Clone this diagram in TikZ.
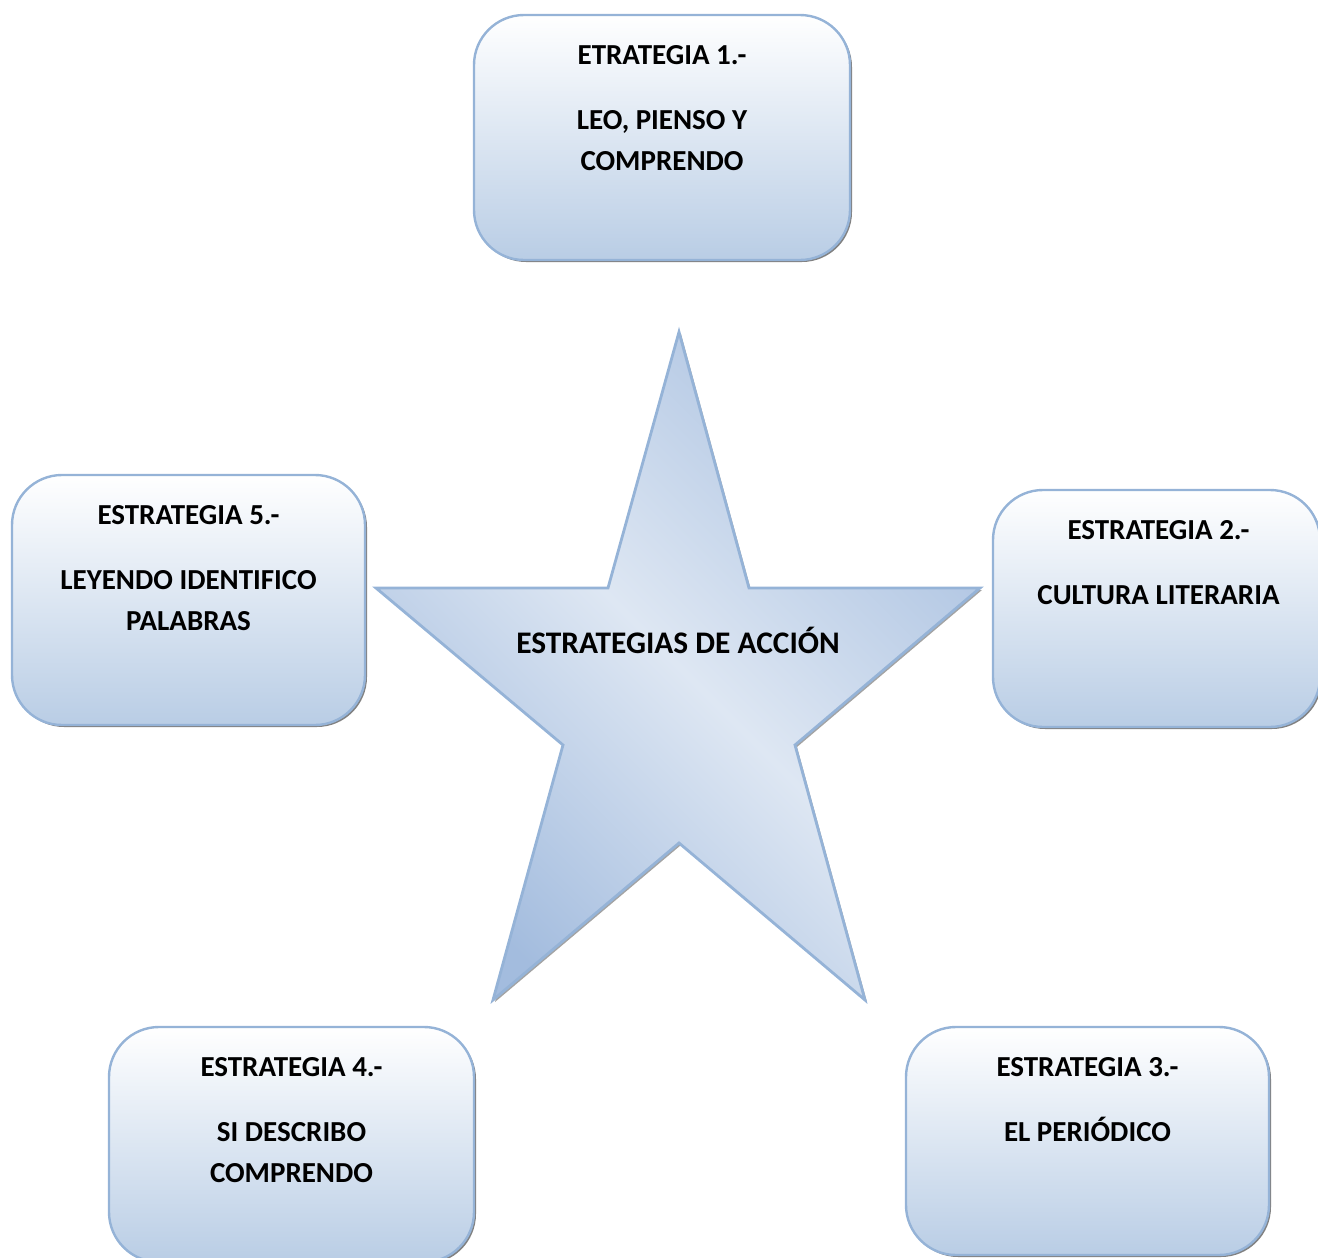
\documentclass[tikz,border=0pt]{standalone}
\usepackage{fontspec}
\setmainfont{Carlito}
\usetikzlibrary{positioning,shadows}
\definecolor{boxline}{RGB}{149,179,215}
\definecolor{boxbottom}{RGB}{185,205,229}
\definecolor{starlight}{RGB}{222,231,243}
\definecolor{stardark}{RGB}{163,188,222}
\tikzset{
  stratbox/.style={rectangle, rounded corners=25pt, draw=boxline, line width=1.2pt,
    top color=white, bottom color=boxbottom,
    drop shadow={shadow xshift=1pt, shadow yshift=-1pt, fill=black!55, opacity=.9}},
  strattext/.style={align=center, inner sep=0pt, font=\bfseries\fontsize{14.5}{20.5}\selectfont},
  starfill/.style={draw=boxline, line width=1.4pt, line join=miter,
    left color=stardark, right color=stardark!85!starlight, middle color=starlight, shading angle=135,
    drop shadow={shadow xshift=1pt, shadow yshift=-1pt, fill=black!45, opacity=.8}}
}
\begin{document}
\begin{tikzpicture}[x=0.5pt,y=-0.5pt]
  \useasboundingbox (0,0) rectangle (1318,1258);

  \path[starfill] (679,332) -- (749,588) -- (980,588) -- (795,745) -- (865,1000)
    -- (679,843) -- (493,1000) -- (563,745) -- (376,588) -- (608,588) -- cycle;
  \node[strattext, font=\bfseries\fontsize{15.7}{20}\selectfont] (centre) at (678,640) {ESTRATEGIAS DE ACCIÓN};

  \node[stratbox, minimum width=188pt, minimum height=122.5pt] (e1) at (662,137.5) {};
  \node[strattext, below=15.5pt of e1.north] (t1) {ETRATEGIA 1.-\\[12pt]LEO, PIENSO Y\\COMPRENDO};

  \node[stratbox, minimum width=163.5pt, minimum height=118.5pt] (e2) at (1156.5,608.5) {};
  \node[strattext, below=15.5pt of e2.north, xshift=1pt] (t2) {ESTRATEGIA 2.-\\[12pt]CULTURA LITERARIA};

  \node[stratbox, minimum width=181.5pt, minimum height=114pt] (e3) at (1087.5,1141) {};
  \node[strattext, below=15.5pt of e3.north] (t3) {ESTRATEGIA 3.-\\[12pt]EL PERIÓDICO};

  \node[stratbox, minimum width=182.5pt, minimum height=117.5pt] (e4) at (291.5,1144.5) {};
  \node[strattext, below=15.5pt of e4.north] (t4) {ESTRATEGIA 4.-\\[12pt]SI DESCRIBO\\COMPRENDO};

  \node[stratbox, minimum width=176.5pt, minimum height=125pt] (e5) at (188.5,600) {};
  \node[strattext, below=15.5pt of e5.north] (t5) {ESTRATEGIA 5.-\\[12pt]LEYENDO IDENTIFICO\\PALABRAS};
\end{tikzpicture}
\end{document}
